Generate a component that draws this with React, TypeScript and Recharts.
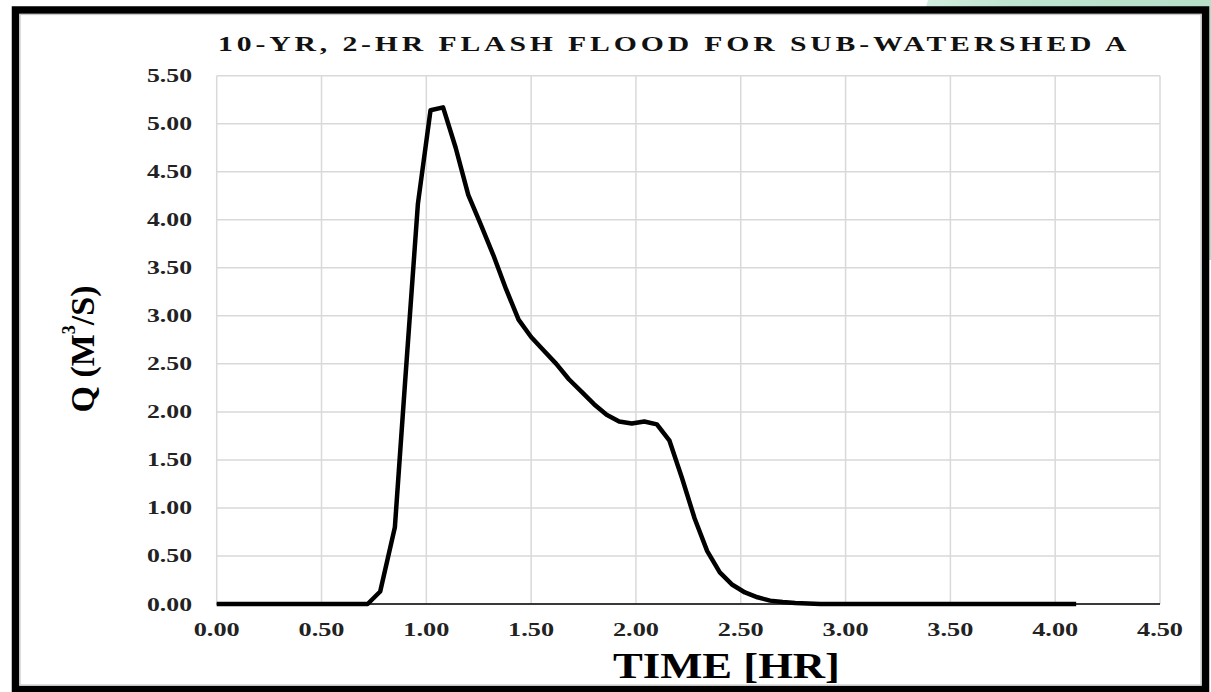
import React from "react";
import { LineChart, Line, XAxis, YAxis, CartesianGrid } from "recharts";

const timeHr = [0, 0.72, 0.78, 0.85, 0.9, 0.96, 1.02, 1.08, 1.14, 1.2, 1.26, 1.32, 1.38, 1.44, 1.5, 1.56, 1.62, 1.68, 1.74, 1.8, 1.86, 1.92, 1.98, 2.04, 2.1, 2.16, 2.22, 2.28, 2.34, 2.4, 2.46, 2.52, 2.58, 2.64, 2.7, 2.76, 2.82, 2.88, 3.0, 4.1];
const flowQ = [0, 0, 0.13, 0.8, 2.35, 4.17, 5.14, 5.17, 4.75, 4.26, 3.95, 3.63, 3.28, 2.96, 2.78, 2.64, 2.5, 2.34, 2.21, 2.08, 1.97, 1.9, 1.88, 1.9, 1.87, 1.7, 1.31, 0.89, 0.55, 0.33, 0.2, 0.12, 0.07, 0.035, 0.02, 0.01, 0.005, 0, 0, 0];
const xTicks = [0, 0.5, 1, 1.5, 2, 2.5, 3, 3.5, 4, 4.5];
const yTicks = [0, 0.5, 1, 1.5, 2, 2.5, 3, 3.5, 4, 4.5, 5, 5.5];
const titleText = "10-YR, 2-HR FLASH FLOOD FOR SUB-WATERSHED A";
const xTitle = "TIME [HR]";

const data = timeHr.map((t, i) => ({ t, q: flowQ[i] }));

const FONT = "'Liberation Serif', 'Times New Roman', serif";

const XTick = (props: any) => {
  const { x, payload } = props;
  return (
    <text x={x} y={629} textAnchor="middle" dominantBaseline="central" fontFamily={FONT} fontWeight="bold" fontSize={19} fill="#222" textLength={46} lengthAdjust="spacingAndGlyphs">
      {Number(payload.value).toFixed(2)}
    </text>
  );
};

const YTick = (props: any) => {
  const { y, payload } = props;
  return (
    <text x={192} y={y} textAnchor="end" dominantBaseline="central" fontFamily={FONT} fontWeight="bold" fontSize={19} fill="#222" textLength={45} lengthAdjust="spacingAndGlyphs">
      {Number(payload.value).toFixed(2)}
    </text>
  );
};

export default function App() {
  return (
    <div style={{ position: "absolute", left: 0, top: 0, width: 1211, height: 692, background: "#fff", overflow: "hidden" }}>
      <svg width={1211} height={692} style={{ position: "absolute", left: 0, top: 0 }}>
        <defs>
          <linearGradient id="gr" x1="0" y1="0" x2="1" y2="0">
            <stop offset="0" stopColor="#d3ede0" />
            <stop offset="0.3" stopColor="#bfe3cf" />
            <stop offset="1" stopColor="#b7dfc8" />
          </linearGradient>
        </defs>
        <polygon points="928,0 1211,0 1211,260 1200,260 1200,14 924,14" fill="url(#gr)" />
        <rect x={15.5} y={10} width={1190} height={679.5} fill="#fff" stroke="#000" strokeWidth={7.5} />
        <rect x={20} y={14.5} width={1181} height={670.5} fill="none" stroke="#c8c8c8" strokeWidth={1.2} />
      </svg>
      <div style={{ position: "absolute", left: 0, top: 0 }}>
        <LineChart width={1211} height={692} data={data} margin={{ top: 75.7, right: 51, bottom: 58, left: 156.7 }}>
          <CartesianGrid stroke="#d9d9d9" strokeWidth={1.5} />
          <XAxis dataKey="t" type="number" domain={[0, 4.5]} ticks={xTicks} height={30} tickLine={false} axisLine={{ stroke: "#000", strokeWidth: 1.5 }} tick={<XTick />} interval={0} />
          <YAxis type="number" domain={[0, 5.5]} ticks={yTicks} width={60} tickLine={false} axisLine={false} tick={<YTick />} interval={0} />
          <Line dataKey="q" type="linear" stroke="#000" strokeWidth={4.5} dot={false} activeDot={false} isAnimationActive={false} strokeLinejoin="round" />
        </LineChart>
      </div>
      <svg width={1211} height={692} style={{ position: "absolute", left: 0, top: 0, pointerEvents: "none" }}>
        <g transform="translate(218,50.5) scale(1.35,1)">
          <text x={0} y={0} fontFamily={FONT} fontWeight="bold" fontSize={22} fill="#111" textLength={673} lengthAdjust="spacing">
            {titleText}
          </text>
        </g>
        <text x={613} y={678} fontFamily={FONT} fontWeight="bold" fontSize={36} fill="#000" textLength={227} lengthAdjust="spacingAndGlyphs">
          {xTitle}
        </text>
        <text transform="translate(82,349) rotate(-90)" textAnchor="middle" dominantBaseline="central" fontFamily={FONT} fontWeight="bold" fontSize={34} fill="#000">
          Q (M<tspan fontSize={18} dy={-13}>3</tspan><tspan dy={13}>/S)</tspan>
        </text>
      </svg>
    </div>
  );
}
